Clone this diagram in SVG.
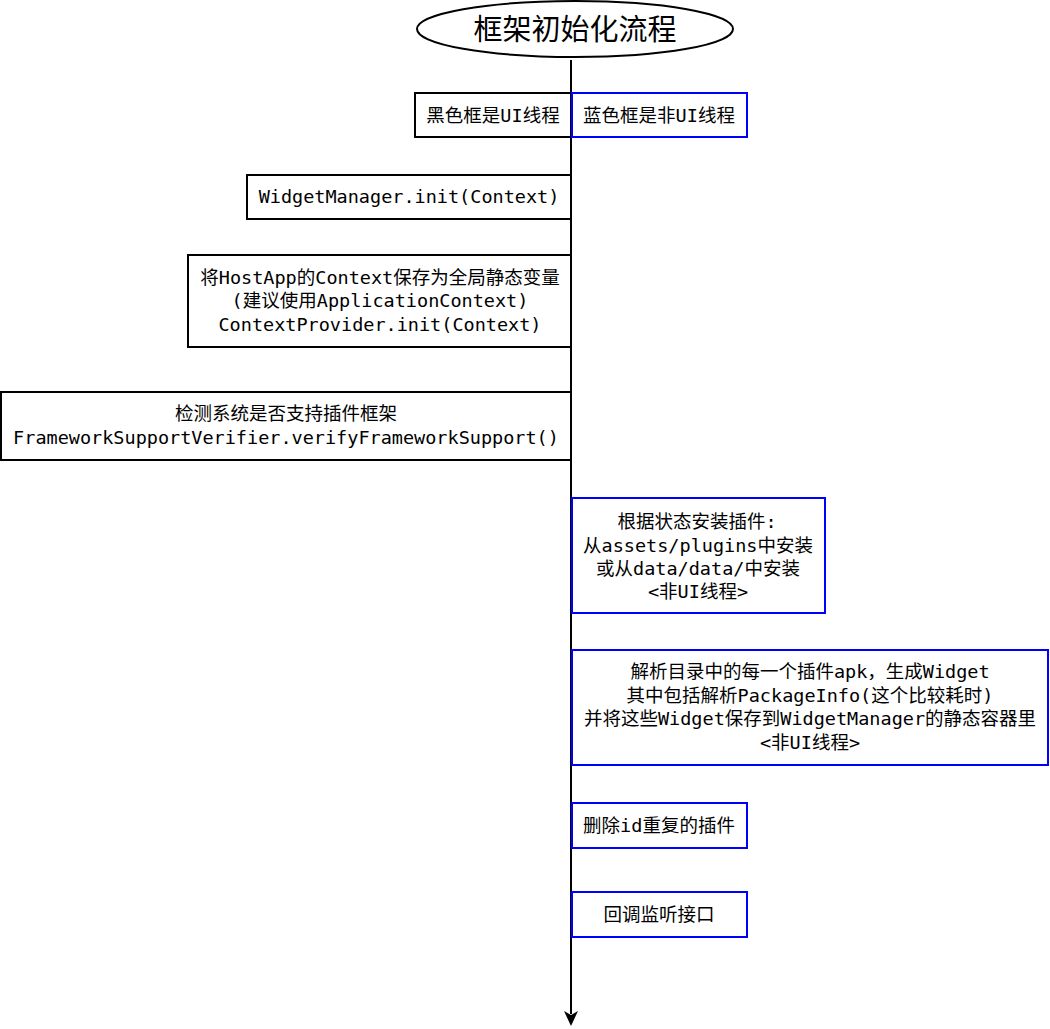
<svg xmlns="http://www.w3.org/2000/svg" width="1050" height="1029" viewBox="0 0 1050 1029">
<style>
text{font-family:"DejaVu Sans Mono","Noto Sans CJK SC",monospace;font-size:18.5px;fill:#000;text-anchor:middle}
.title{font-family:"Noto Sans CJK SC",sans-serif;font-size:29px}
.k{fill:#fff;stroke:#000;stroke-width:2}
.b{fill:#fff;stroke:#0000ff;stroke-width:2}
</style>
<g id="connectors">
<line x1="571" y1="60" x2="571" y2="1014" stroke="#000" stroke-width="2"/>
<path d="M564,1011 L571,1026 L578,1011 L571,1015 Z" fill="#000"/>
</g>
<g id="title">
<ellipse cx="575" cy="29" rx="158" ry="28" fill="#fff" stroke="#000" stroke-width="2"/>
<text class="title" x="575" y="40">框架初始化流程</text>
</g>
<g id="legend-ui">
<rect class="k" x="415" y="93" width="156" height="44"/>
<text x="493" y="122">黑色框是UI线程</text>
</g>
<g id="legend-nonui">
<rect class="b" x="572" y="93" width="175" height="44"/>
<text x="659" y="122">蓝色框是非UI线程</text>
</g>
<g id="widget-init">
<rect class="k" x="247" y="175" width="324" height="44"/>
<text x="409" y="203">WidgetManager.init(Context)</text>
</g>
<g id="context-save">
<rect class="k" x="188" y="255" width="383" height="92"/>
<text x="380" y="284">将HostApp的Context保存为全局静态变量</text>
<text x="380" y="307">(建议使用ApplicationContext)</text>
<text x="380" y="331">ContextProvider.init(Context)</text>
</g>
<g id="verify">
<rect class="k" x="1" y="392" width="570" height="68"/>
<text x="286" y="420">检测系统是否支持插件框架</text>
<text x="286" y="444">FrameworkSupportVerifier.verifyFrameworkSupport()</text>
</g>
<g id="install">
<rect class="b" x="572" y="498" width="253" height="115"/>
<text x="697" y="528">根据状态安装插件:</text>
<text x="698" y="552">从assets/plugins中安装</text>
<text x="698" y="575">或从data/data/中安装</text>
<text x="698" y="598">&lt;非UI线程&gt;</text>
</g>
<g id="parse">
<rect class="b" x="572" y="650" width="476" height="115"/>
<text x="810" y="678">解析目录中的每一个插件apk，生成Widget</text>
<text x="810" y="702">其中包括解析PackageInfo(这个比较耗时)</text>
<text x="810" y="725">并将这些Widget保存到WidgetManager的静态容器里</text>
<text x="810" y="749">&lt;非UI线程&gt;</text>
</g>
<g id="dedupe">
<rect class="b" x="572" y="803" width="175" height="45"/>
<text x="659" y="832">删除id重复的插件</text>
</g>
<g id="callback">
<rect class="b" x="572" y="892" width="175" height="45"/>
<text x="659" y="921">回调监听接口</text>
</g>
</svg>
